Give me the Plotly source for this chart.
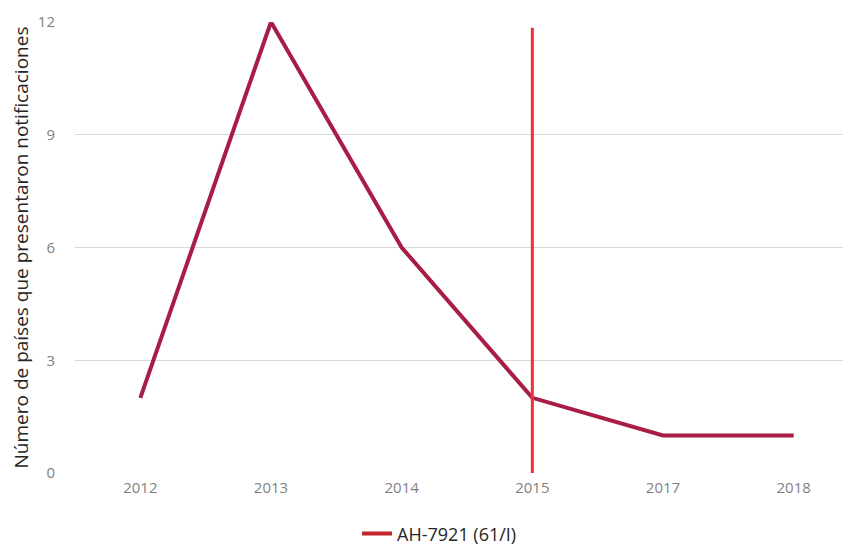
import plotly.graph_objects as go

years = ["2012", "2013", "2014", "2015", "2017", "2018"]
countries = [2, 12, 6, 2, 1, 1]
marker_year = ["2015", "2015"]
marker_span = [0, 11.85]
legend_label = "AH-7921 (61/I)"
y_ticks = [0, 3, 6, 9, 12]

fig = go.Figure()
fig.add_trace(go.Scatter(
    x=years, y=countries, mode="lines",
    line=dict(color="#a91d45", width=4),
    showlegend=False, hoverinfo="x+y"))
fig.add_trace(go.Scatter(
    x=marker_year, y=marker_span, mode="lines",
    line=dict(color="#ec3239", width=3),
    showlegend=False))
fig.add_trace(go.Scatter(
    x=[None], y=[None], mode="lines", name=legend_label,
    line=dict(color="#c3252d", width=4)))

fig.update_layout(
    width=851, height=548,
    paper_bgcolor="white", plot_bgcolor="white",
    margin=dict(l=67, r=0, t=14, b=83, autoexpand=False),
    font=dict(family="Open Sans, Noto Sans, sans-serif", color="#262626"),
    showlegend=True,
    legend=dict(orientation="h", x=0.465, xanchor="center", y=-0.135, yanchor="middle",
                font=dict(size=18, color="#262626")),
)
fig.update_xaxes(type="category", categoryorder="array", categoryarray=years,
                 range=[-0.5, 5.5], automargin=False,
                 showgrid=False, zeroline=False, showline=False, ticks="",
                 ticklabelstandoff=4,
                 tickfont=dict(size=15, color="#7f7f7f"))
fig.update_yaxes(range=[0, 12], tickvals=y_ticks, showgrid=True, gridcolor="#d9d9d9",
                 gridwidth=1, zeroline=False, showline=False, ticks="", automargin=False,
                 ticklabelstandoff=19,
                 tickfont=dict(size=15, color="#7f7f7f"),
                 title=dict(text="Número de países que presentaron notificaciones",
                            font=dict(size=19, color="#262626"), standoff=7))
fig.write_html("out.html")
